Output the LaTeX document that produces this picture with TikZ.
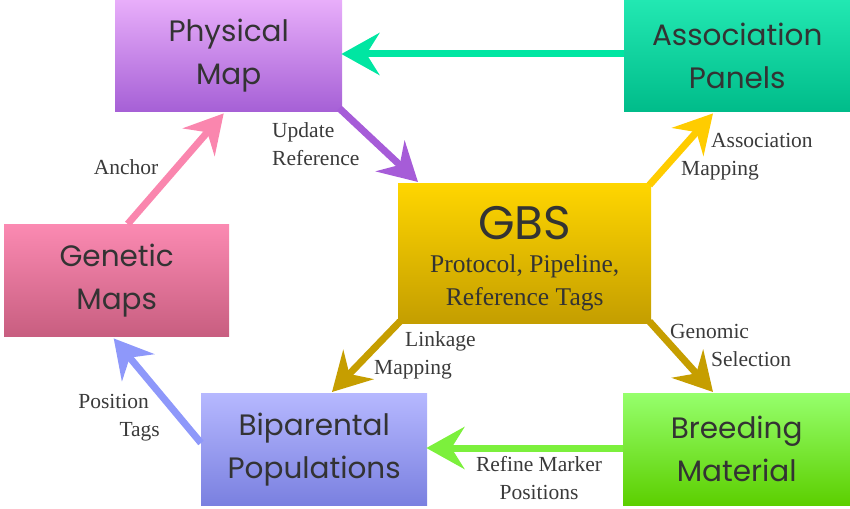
\documentclass[tikz,border=0pt]{standalone}
\usepackage{fontspec}
\usetikzlibrary{arrows.meta,calc}
\newfontfamily\boxfont{Poppins}
\newfontfamily\lblfont{Liberation Serif}
\definecolor{physT}{HTML}{E8AEFA}
\definecolor{physB}{HTML}{A660D6}
\definecolor{assocT}{HTML}{22E8B2}
\definecolor{assocB}{HTML}{00BC8A}
\definecolor{gbsT}{HTML}{FFD600}
\definecolor{gbsB}{HTML}{C49E00}
\definecolor{genT}{HTML}{FB8AB2}
\definecolor{genB}{HTML}{C85E80}
\definecolor{bipT}{HTML}{B6B8FF}
\definecolor{bipB}{HTML}{7A80E0}
\definecolor{breedT}{HTML}{96FF6C}
\definecolor{breedB}{HTML}{5CCF00}
\definecolor{cTeal}{HTML}{00E6A2}
\definecolor{cPurple}{HTML}{A65CD8}
\definecolor{cGold}{HTML}{FFCC00}
\definecolor{cDark}{HTML}{C69E00}
\definecolor{cGreen}{HTML}{7CF03C}
\definecolor{cPeri}{HTML}{8E98FA}
\definecolor{cPink}{HTML}{FA86AE}
\definecolor{txtgray}{HTML}{333333}
\definecolor{lblgray}{HTML}{3A3A3A}
\begin{document}
\begin{tikzpicture}[x=1pt,y=-1pt,
  box/.style={anchor=north west, inner sep=0pt, align=center, text=txtgray,
    font=\boxfont\fontsize{29.5}{43}\selectfont},
  conn/.style={line width=7pt, -{Stealth[length=38pt,width=42pt,inset=13pt]}},
  lbl/.style={font=\lblfont\fontsize{21.5}{28}\selectfont, text=lblgray, inner sep=0pt}]
\useasboundingbox (0,0) rectangle (850,508);
\node[box, minimum width=227pt, minimum height=111pt, top color=physT, bottom color=physB] (phys) at (115,0) {Physical\\Map};
\node[box, minimum width=226pt, minimum height=111pt, top color=assocT, bottom color=assocB] (assoc) at (624,0) {Association\\Panels};
\node[box, minimum width=253pt, minimum height=140pt, top color=gbsT, bottom color=gbsB, font=\lblfont\fontsize{25.5}{33}\selectfont] (gbs) at (398,183) {\rule{0pt}{44pt}{\boxfont\fontsize{47}{33}\selectfont GBS}\\Protocol, Pipeline,\\Reference Tags};
\node[box, minimum width=225pt, minimum height=112pt, top color=genT, bottom color=genB] (gen) at (4,224) {Genetic\\Maps};
\node[box, minimum width=226pt, minimum height=112pt, top color=bipT, bottom color=bipB] (bip) at (201,393) {Biparental\\Populations};
\node[box, minimum width=227pt, minimum height=112pt, top color=breedT, bottom color=breedB] (breed) at (623,393) {Breeding\\Material};

\draw[conn, cTeal] ($(assoc.north west)+(0,54)$) -- ($(phys.north east)+(-1,54)$);
\draw[conn, cPurple] ($(phys.south east)+(-3,-3)$) -- ($(gbs.north west)+(20,-1)$);
\draw[conn, cGold] ($(gbs.north east)+(-2,2)$) -- ($(assoc.south west)+(89,2)$);
\draw[conn, cDark] ($(gbs.south east)+(-2,-2)$) -- ($(breed.north west)+(90,-1)$);
\draw[conn, cDark] ($(gbs.south west)+(2,-2)$) -- ($(bip.north west)+(131,-1)$);
\draw[conn, cGreen] ($(breed.north west)+(0,55)$) -- ($(bip.north east)+(-1,55)$);
\draw[conn, cPeri] ($(bip.north west)+(0,50)$) -- ($(gen.south)+(-3,2)$);
\draw[conn, cPink] ($(gen.north)+(11,0)$) -- ($(phys.south)+(-5,2)$);

\node[lbl, anchor=west, align=left] (l1) at (272,144) {Update\\Reference};
\node[lbl] (l2) at (126,167) {Anchor};
\node[lbl, anchor=west, align=left] (l3) at (681,157) {\hspace*{30pt}Association\\Mapping};
\node[lbl, anchor=west, align=left] (l4) at (670,345) {Genomic\\\hspace*{41pt}Selection};
\node[lbl, anchor=west, align=left] (l5) at (374,355) {\hspace*{31pt}Linkage\\Mapping};
\node[lbl, anchor=east, align=right] (l6) at (160,418) {Position\hspace*{11pt}\\Tags};
\node[lbl, align=center] (l7) at (539,478) {Refine Marker\\Positions};
\end{tikzpicture}
\end{document}
